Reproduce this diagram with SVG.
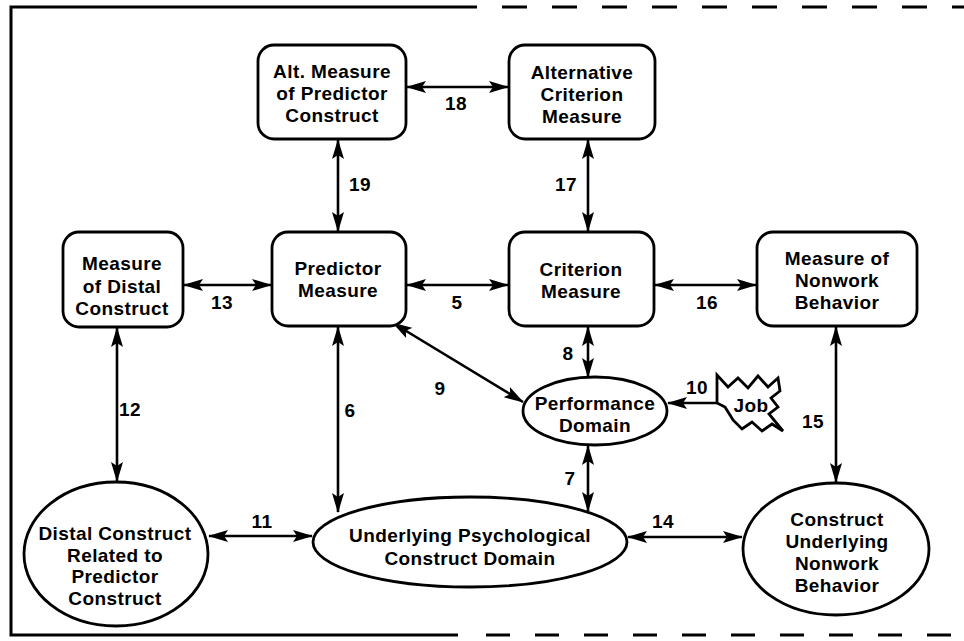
<svg xmlns="http://www.w3.org/2000/svg" width="964" height="641" viewBox="0 0 964 641">
<defs>
<style>
.node{fill:#fff;stroke:#000;stroke-width:2.8}
.t{font-family:"Liberation Sans",Arial,Helvetica,sans-serif;font-weight:bold;font-size:19px;letter-spacing:0.4px;text-anchor:middle;fill:#000}
.c{stroke:#000;stroke-width:2.6;fill:none}
.frame{stroke:#000;stroke-width:3;fill:none}
</style>
<marker id="ah" viewBox="0 0 20 12" refX="19" refY="6" markerWidth="20" markerHeight="12" markerUnits="userSpaceOnUse" orient="auto-start-reverse">
<path d="M0,0 L20,6 L0,12 L4,6 z" fill="#000"/>
</marker>
</defs>
<rect width="964" height="641" fill="#fff"/>
<g id="frame">
<polyline class="frame" points="477,7 11,7 11,635 458,635"/>
<line class="frame" x1="502" y1="7" x2="964" y2="7" stroke-dasharray="25 25"/>
<line class="frame" x1="486" y1="635" x2="964" y2="635" stroke-dasharray="24 25"/>
</g>
<g id="connectors">
<line class="c" x1="407" y1="87" x2="508" y2="87" marker-start="url(#ah)" marker-end="url(#ah)"/>
<line class="c" x1="338" y1="140" x2="338" y2="231" marker-start="url(#ah)" marker-end="url(#ah)"/>
<line class="c" x1="588" y1="140" x2="588" y2="231" marker-start="url(#ah)" marker-end="url(#ah)"/>
<line class="c" x1="184" y1="285" x2="271" y2="285" marker-start="url(#ah)" marker-end="url(#ah)"/>
<line class="c" x1="407" y1="285" x2="508" y2="285" marker-start="url(#ah)" marker-end="url(#ah)"/>
<line class="c" x1="655" y1="285" x2="756" y2="285" marker-start="url(#ah)" marker-end="url(#ah)"/>
<line class="c" x1="117" y1="328" x2="117" y2="481" marker-start="url(#ah)" marker-end="url(#ah)"/>
<line class="c" x1="338" y1="327" x2="338" y2="512" marker-start="url(#ah)" marker-end="url(#ah)"/>
<line class="c" x1="588" y1="327" x2="588" y2="377" marker-start="url(#ah)" marker-end="url(#ah)"/>
<line class="c" x1="393" y1="323" x2="523" y2="402" stroke-width="4" marker-start="url(#ah)" marker-end="url(#ah)"/>
<line class="c" x1="717" y1="403" x2="668" y2="403" marker-end="url(#ah)"/>
<line class="c" x1="588" y1="446" x2="588" y2="511" marker-start="url(#ah)" marker-end="url(#ah)"/>
<line class="c" x1="836" y1="327" x2="836" y2="482" marker-start="url(#ah)" marker-end="url(#ah)"/>
<line class="c" x1="209" y1="536" x2="312" y2="536" marker-start="url(#ah)" marker-end="url(#ah)"/>
<line class="c" x1="628" y1="537" x2="742" y2="537" marker-start="url(#ah)" marker-end="url(#ah)"/>
<text class="t" x="456" y="110">18</text>
<text class="t" x="360" y="191">19</text>
<text class="t" x="566" y="191">17</text>
<text class="t" x="222" y="309">13</text>
<text class="t" x="457" y="309">5</text>
<text class="t" x="707" y="309">16</text>
<text class="t" x="130" y="416">12</text>
<text class="t" x="350" y="417">6</text>
<text class="t" x="568" y="360">8</text>
<text class="t" x="440" y="395">9</text>
<text class="t" x="697" y="394">10</text>
<text class="t" x="570" y="485">7</text>
<text class="t" x="813" y="428">15</text>
<text class="t" x="262" y="528">11</text>
<text class="t" x="663" y="528">14</text>
</g>
<g id="alt-predictor">
<rect class="node" x="258" y="45" width="148" height="94" rx="16"/>
<text class="t" x="332" y="78">Alt. Measure</text>
<text class="t" x="332" y="100">of Predictor</text>
<text class="t" x="332" y="122">Construct</text>
</g>
<g id="alt-criterion">
<rect class="node" x="509" y="45" width="146" height="94" rx="16"/>
<text class="t" x="582" y="79">Alternative</text>
<text class="t" x="582" y="101">Criterion</text>
<text class="t" x="582" y="123">Measure</text>
</g>
<g id="distal-measure">
<rect class="node" x="63" y="232" width="120" height="95" rx="16"/>
<text class="t" x="122" y="270">Measure</text>
<text class="t" x="122" y="293">of Distal</text>
<text class="t" x="122" y="315">Construct</text>
</g>
<g id="predictor">
<rect class="node" x="272" y="232" width="134" height="94" rx="16"/>
<text class="t" x="338" y="275">Predictor</text>
<text class="t" x="338" y="297">Measure</text>
</g>
<g id="criterion">
<rect class="node" x="509" y="232" width="145" height="94" rx="16"/>
<text class="t" x="581" y="276">Criterion</text>
<text class="t" x="581" y="298">Measure</text>
</g>
<g id="nonwork-measure">
<rect class="node" x="757" y="232" width="160" height="94" rx="16"/>
<text class="t" x="837" y="265">Measure of</text>
<text class="t" x="837" y="287">Nonwork</text>
<text class="t" x="837" y="309">Behavior</text>
</g>
<g id="performance">
<ellipse class="node" cx="595" cy="411" rx="72" ry="34"/>
<text class="t" x="595" y="410">Performance</text>
<text class="t" x="595" y="432">Domain</text>
</g>
<g id="job">
<polygon class="node" stroke-width="3" points="717,375 728,387 738,378 748,388 758,376 768,387 778,378 780,391 771,398 778,407 769,414 783,431 772,424 762,431 752,422 742,429 733,420 730,415 725,407 717,403"/>
<text class="t" x="751" y="412">Job</text>
</g>
<g id="distal-construct">
<ellipse class="node" cx="116" cy="554" rx="92" ry="72"/>
<text class="t" x="115" y="540">Distal Construct</text>
<text class="t" x="115" y="562">Related to</text>
<text class="t" x="115" y="583">Predictor</text>
<text class="t" x="115" y="605">Construct</text>
</g>
<g id="underlying">
<ellipse class="node" cx="470" cy="542" rx="157" ry="45"/>
<text class="t" x="470" y="542">Underlying Psychological</text>
<text class="t" x="470" y="565">Construct Domain</text>
</g>
<g id="construct-nonwork">
<ellipse class="node" cx="836" cy="549" rx="93" ry="66"/>
<text class="t" x="837" y="526">Construct</text>
<text class="t" x="837" y="548">Underlying</text>
<text class="t" x="837" y="570">Nonwork</text>
<text class="t" x="837" y="592">Behavior</text>
</g>
</svg>
